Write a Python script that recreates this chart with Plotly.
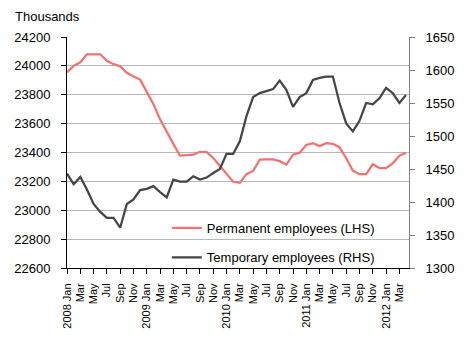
import plotly.graph_objects as go

# Months: 2008 Jan .. 2012 Apr
years = [2008, 2009, 2010, 2011, 2012]
mnames = ["Jan", "Feb", "Mar", "Apr", "May", "Jun", "Jul", "Aug", "Sep", "Oct", "Nov", "Dec"]
months = [f"{y} {m}" for y in years for m in mnames][:52]

permanent = [23955, 24000, 24025, 24080, 24080, 24080, 24035, 24012, 23998, 23952,
             23927, 23905, 23820, 23735, 23630, 23540, 23460, 23378, 23380, 23385,
             23405, 23402, 23362, 23305, 23250, 23197, 23190, 23250, 23272, 23350,
             23352, 23352, 23340, 23316, 23385, 23398, 23452, 23465, 23445, 23465,
             23460, 23435, 23360, 23275, 23250, 23250, 23318, 23292, 23292, 23325,
             23378, 23398]

temporary = [1443, 1427, 1438, 1419, 1397, 1385, 1376, 1376, 1361, 1397,
             1404, 1418, 1420, 1424, 1415, 1407, 1434, 1431, 1431, 1439,
             1434, 1437, 1444, 1450, 1473, 1473, 1492, 1530, 1559, 1565,
             1568, 1571, 1584, 1570, 1544, 1559, 1565, 1585, 1588, 1590,
             1590, 1550, 1519, 1507, 1523, 1550, 1548, 1557, 1573, 1565,
             1550, 1562]

tick_idx = list(range(0, 52, 2))
tick_text = [months[i] if months[i].endswith("Jan") else months[i].split(" ")[1] for i in tick_idx]

left_ticks = list(range(22600, 24201, 200))
right_ticks = list(range(1300, 1651, 50))

x = list(range(len(months)))

fig = go.Figure()
fig.add_trace(go.Scatter(x=x, y=permanent, mode="lines", name="Permanent employees (LHS)",
                         line=dict(color="#F07272", width=2.25), legend="legend", showlegend=True))
fig.add_trace(go.Scatter(x=x, y=temporary, mode="lines", name="Temporary employees (RHS)",
                         line=dict(color="#454545", width=2.25), yaxis="y2", legend="legend2",
                         showlegend=True))

fig.update_layout(
    width=472, height=341,
    showlegend=True,
    margin=dict(l=67, r=63, t=37, b=67),
    plot_bgcolor="white", paper_bgcolor="white",
    font=dict(family="Liberation Sans, Arial, sans-serif", size=13, color="black"),
    xaxis=dict(range=[0, 51.45], tickvals=tick_idx, ticktext=tick_text, tickangle=-90,
               ticks="outside", ticklen=5, tickcolor="black", showline=True, linecolor="black",
               linewidth=1, showgrid=False, zeroline=False, tickfont=dict(size=11),
               ticklabelstandoff=5),
    yaxis=dict(range=[22600, 24200], tickvals=left_ticks, ticktext=[str(v) for v in left_ticks],
               showgrid=True, gridcolor="#B8B8B8",
               gridwidth=1, ticks="outside", ticklen=5, tickcolor="black", showline=True,
               linecolor="black", linewidth=1, zeroline=False, ticklabelstandoff=8),
    yaxis2=dict(range=[1300, 1650], tickvals=right_ticks, ticktext=[str(v) for v in right_ticks],
                overlaying="y", side="right",
                showgrid=False, ticks="outside", ticklen=5, tickcolor="#808080", showline=True,
                linecolor="#808080", linewidth=1, zeroline=False, ticklabelstandoff=8),
    legend=dict(x=0.292, y=0.173, xanchor="left", yanchor="middle", bgcolor="rgba(0,0,0,0)",
                font=dict(size=13)),
    legend2=dict(x=0.292, y=0.046, xanchor="left", yanchor="middle", bgcolor="rgba(0,0,0,0)",
                 font=dict(size=13)),
    annotations=[dict(text="Thousands", xref="paper", yref="paper", x=-0.158, y=1.089,
                      xanchor="left", yanchor="middle", showarrow=False, font=dict(size=13))],
)

fig.write_html("out.html")
